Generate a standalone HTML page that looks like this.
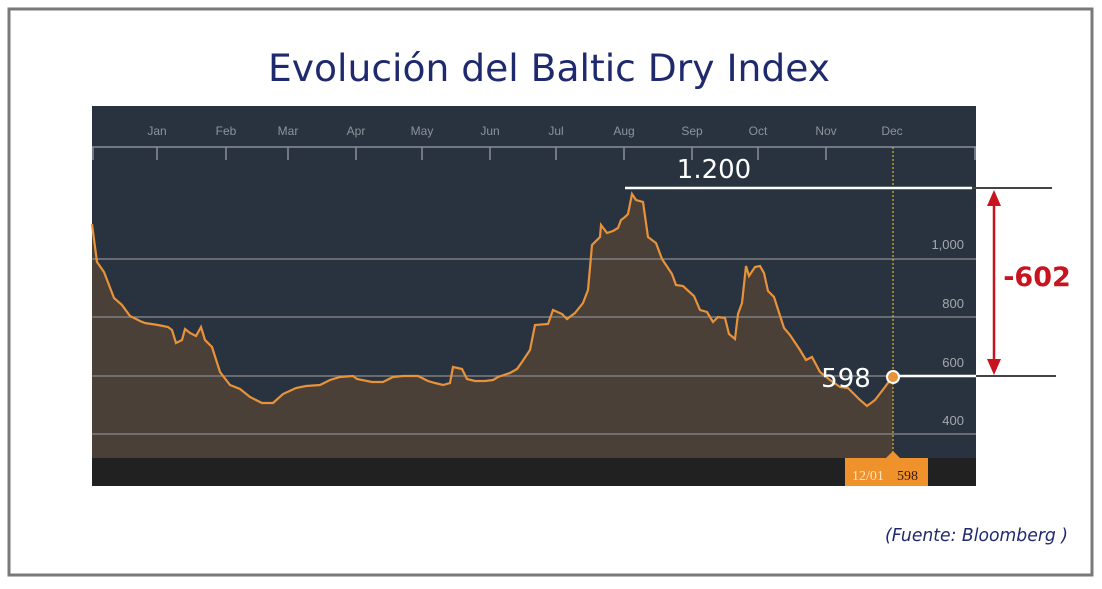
<!DOCTYPE html>
<html><head><meta charset="utf-8"><style>
body{margin:0;background:#fff;width:1102px;height:584px;overflow:hidden}
</style></head><body>
<svg width="1102" height="584" xmlns="http://www.w3.org/2000/svg" font-family="Liberation Sans, sans-serif">
<rect x="9" y="9" width="1083" height="566" fill="#fff" stroke="#7a7a7a" stroke-width="3"/>
<text x="268" y="81" font-size="37" fill="#1f2a6e" font-family="DejaVu Sans, sans-serif" textLength="562" lengthAdjust="spacingAndGlyphs">Evolución del Baltic Dry Index</text>
<rect x="92" y="106" width="884" height="380" fill="#29333f"/>
<rect x="92" y="458" width="884" height="28" fill="#212121"/>
<line x1="92" y1="147" x2="976" y2="147" stroke="#8a9098" stroke-width="1.5"/>
<g stroke="#8a9098" stroke-width="1.5">
<line x1="93" y1="147" x2="93" y2="160"/><line x1="975" y1="147" x2="975" y2="160"/>
<line x1="157" y1="147" x2="157" y2="160"/><line x1="226" y1="147" x2="226" y2="160"/><line x1="288" y1="147" x2="288" y2="160"/><line x1="356" y1="147" x2="356" y2="160"/><line x1="422" y1="147" x2="422" y2="160"/><line x1="490" y1="147" x2="490" y2="160"/><line x1="556" y1="147" x2="556" y2="160"/><line x1="624" y1="147" x2="624" y2="160"/><line x1="692" y1="147" x2="692" y2="160"/><line x1="758" y1="147" x2="758" y2="160"/><line x1="826" y1="147" x2="826" y2="160"/>
</g>
<g font-size="12" fill="#8d939b" text-anchor="middle">
<text x="157" y="135">Jan</text><text x="226" y="135">Feb</text><text x="288" y="135">Mar</text><text x="356" y="135">Apr</text><text x="422" y="135">May</text><text x="490" y="135">Jun</text><text x="556" y="135">Jul</text><text x="624" y="135">Aug</text><text x="692" y="135">Sep</text><text x="758" y="135">Oct</text><text x="826" y="135">Nov</text><text x="892" y="135">Dec</text>
</g>
<path d="M92,224 L97,262 L104,272 L114,298 L122,305 L130,316 L140,321 L145,323 L158,325 L168,327 L172,330 L176,343 L182,340 L185,329 L190,333 L196,336 L201,327 L205,340 L212,347 L220,372 L230,385 L240,389 L250,397 L262,403 L273,403 L283,394 L296,388 L306,386 L320,385 L330,380 L340,377 L353,376 L357,379 L372,382 L383,382 L393,377 L403,376 L418,376 L428,381 L435,383 L443,385 L450,383 L453,367 L462,369 L467,379 L475,381 L485,381 L493,380 L498,377 L510,373 L517,369 L522,362 L530,350 L535,325 L548,324 L553,310 L562,314 L567,319 L575,313 L583,303 L588,290 L592,245 L600,237 L601,225 L607,233 L613,231 L618,228 L621,220 L625,217 L628,214 L632,194 L636,200 L643,202 L648,237 L656,243 L662,259 L672,274 L676,285 L683,286 L694,296 L700,310 L707,312 L713,322 L718,317 L725,318 L729,334 L735,339 L738,314 L742,303 L746,266 L749,276 L755,267 L760,266 L764,273 L768,291 L774,297 L784,328 L790,335 L800,350 L806,360 L812,357 L820,372 L830,380 L840,387 L848,388 L860,400 L867,406 L875,400 L885,387 L893,376 L893,458 L92,458 Z" fill="#4a4038"/>
<g stroke="#7d7f82" stroke-width="1.5">
<line x1="92" y1="259" x2="976" y2="259"/><line x1="92" y1="317" x2="976" y2="317"/><line x1="92" y1="376" x2="976" y2="376"/><line x1="92" y1="434" x2="976" y2="434"/>
</g>
<path d="M92,224 L97,262 L104,272 L114,298 L122,305 L130,316 L140,321 L145,323 L158,325 L168,327 L172,330 L176,343 L182,340 L185,329 L190,333 L196,336 L201,327 L205,340 L212,347 L220,372 L230,385 L240,389 L250,397 L262,403 L273,403 L283,394 L296,388 L306,386 L320,385 L330,380 L340,377 L353,376 L357,379 L372,382 L383,382 L393,377 L403,376 L418,376 L428,381 L435,383 L443,385 L450,383 L453,367 L462,369 L467,379 L475,381 L485,381 L493,380 L498,377 L510,373 L517,369 L522,362 L530,350 L535,325 L548,324 L553,310 L562,314 L567,319 L575,313 L583,303 L588,290 L592,245 L600,237 L601,225 L607,233 L613,231 L618,228 L621,220 L625,217 L628,214 L632,194 L636,200 L643,202 L648,237 L656,243 L662,259 L672,274 L676,285 L683,286 L694,296 L700,310 L707,312 L713,322 L718,317 L725,318 L729,334 L735,339 L738,314 L742,303 L746,266 L749,276 L755,267 L760,266 L764,273 L768,291 L774,297 L784,328 L790,335 L800,350 L806,360 L812,357 L820,372 L830,380 L840,387 L848,388 L860,400 L867,406 L875,400 L885,387 L893,376" fill="none" stroke="#e8923a" stroke-width="2.2"/>
<g font-size="13" fill="#a3a8ae" text-anchor="end">
<text x="964" y="249">1,000</text><text x="964" y="308">800</text><text x="964" y="367">600</text><text x="964" y="425">400</text>
</g>
<line x1="893" y1="147" x2="893" y2="458" stroke="#d8b040" stroke-width="1.2" stroke-dasharray="2,2"/>
<line x1="625" y1="188" x2="972" y2="188" stroke="#fff" stroke-width="2.5"/>
<line x1="972" y1="188" x2="1052" y2="188" stroke="#444" stroke-width="2"/>
<line x1="893" y1="376" x2="976" y2="376" stroke="#fff" stroke-width="2.5"/>
<line x1="976" y1="376" x2="1056" y2="376" stroke="#444" stroke-width="2"/>
<text x="714" y="178" text-anchor="middle" font-size="26" fill="#fff" font-family="DejaVu Sans, sans-serif">1.200</text>
<text x="846" y="387" text-anchor="middle" font-size="26" fill="#fff" font-family="DejaVu Sans, sans-serif">598</text>
<circle cx="893" cy="377" r="6" fill="#e8923a" stroke="#fff" stroke-width="2"/>
<line x1="994" y1="196" x2="994" y2="368" stroke="#c8141e" stroke-width="2.5"/>
<polygon points="994,190 987,206 1001,206" fill="#c8141e"/>
<polygon points="994,375 987,359 1001,359" fill="#c8141e"/>
<text x="1037" y="286" text-anchor="middle" font-size="27" font-weight="bold" fill="#c8141e" font-family="DejaVu Sans, sans-serif">-602</text>
<rect x="845" y="458" width="83" height="28" fill="#f0922c"/>
<polygon points="886,458 893,451 900,458" fill="#f0922c"/>
<text x="852" y="480" font-size="14" fill="#fde3c0" font-family="Liberation Serif, serif">12/01</text>
<text x="897" y="480" font-size="14" fill="#3a1a00" font-family="Liberation Serif, serif">598</text>
<text x="885" y="541" font-size="18" font-style="italic" fill="#1f2a6e" font-family="DejaVu Sans, sans-serif" textLength="183" lengthAdjust="spacingAndGlyphs">(Fuente: Bloomberg )</text>
</svg>
</body></html>
